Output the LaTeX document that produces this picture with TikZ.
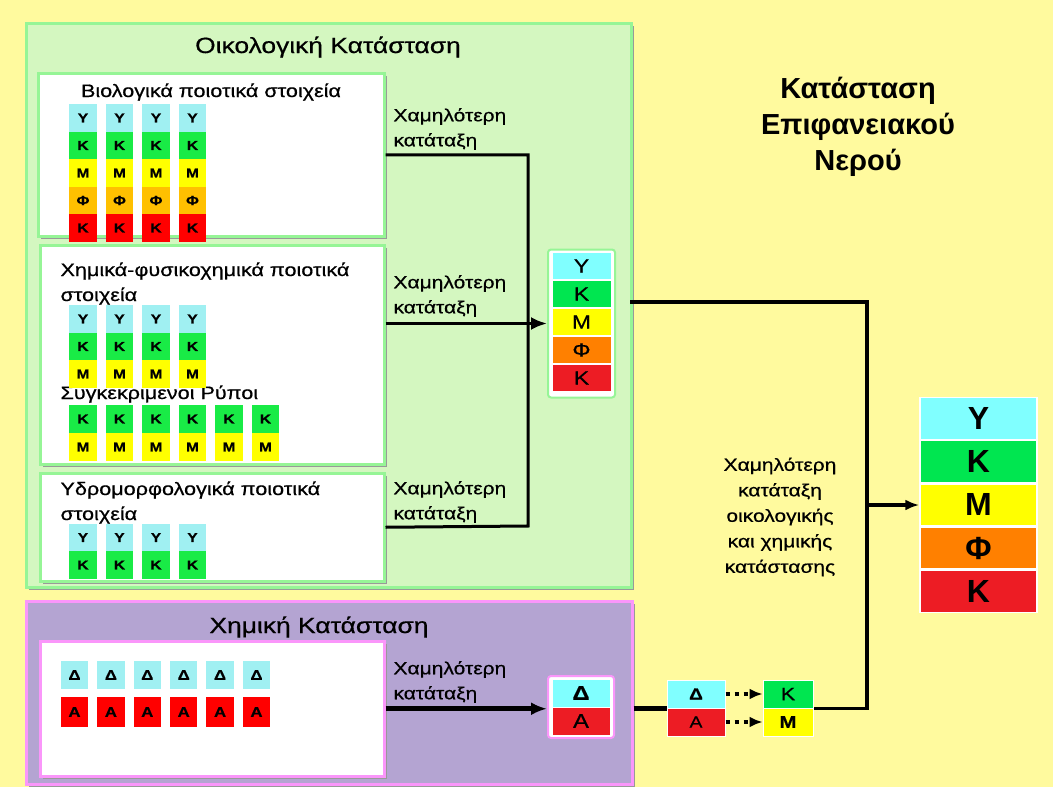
\documentclass[tikz,border=0pt]{standalone}
\usepackage{fontspec}
\setmainfont{Liberation Sans}[FakeStretch=1.2,FakeBold=0.6]
\newfontfamily\headfont{Liberation Sans}
\usetikzlibrary{arrows.meta,shadows}

\definecolor{bgyellow}{RGB}{255,250,158}
\definecolor{ecofill}{RGB}{212,247,192}
\definecolor{ecoline}{RGB}{150,245,150}
\definecolor{chemfill}{RGB}{180,164,210}
\definecolor{chemline}{RGB}{250,150,250}
% quality classes, small cells
\definecolor{qY}{RGB}{160,240,242}
\definecolor{qK}{RGB}{25,235,70}
\definecolor{qM}{RGB}{255,255,0}
\definecolor{qF}{RGB}{255,192,0}
\definecolor{qR}{RGB}{255,0,0}
% quality classes, summary cells
\definecolor{sY}{RGB}{128,255,255}
\definecolor{sK}{RGB}{0,230,80}
\definecolor{sF}{RGB}{255,128,0}
\definecolor{sR}{RGB}{237,28,36}

\tikzset{
  panel/.style={rectangle, draw=#1, line width=2.5pt, anchor=north west, inner sep=0pt,
    drop shadow={shadow xshift=2.5pt, shadow yshift=-2.5pt, fill=black!40, opacity=1}},
  itembox/.style={panel=#1, fill=white},
  cell/.style={rectangle, inner sep=0pt, minimum width=27.5pt, minimum height=27.5pt,
    font=\fontsize{13}{13}\selectfont\bfseries},
  sumcell/.style={rectangle, inner sep=0pt, draw=white, line width=1pt,
    minimum width=59pt, minimum height=27pt, font=\fontsize{19}{19}\selectfont},
  bigcell/.style={rectangle, inner sep=0pt, draw=white, line width=1.5pt,
    minimum width=117pt, minimum height=42pt, font=\headfont\fontsize{32}{32}\selectfont\bfseries},
  heading/.style={font=\fontsize{22}{26}\selectfont, anchor=base},
  boxhead/.style={font=\fontsize{18}{22}\selectfont, anchor=base west},
  note/.style={font=\fontsize{17.5}{25}\selectfont, align=left, anchor=west},
  wire/.style={line width=3pt},
  thickwire/.style={line width=5pt},
  dotwire/.style={line width=4pt, dash pattern=on 4pt off 5pt, -{Latex[length=13pt,width=11pt]}},
}

\begin{document}
\begin{tikzpicture}[x=1pt,y=-1pt]
\useasboundingbox (0,0) rectangle (1053,787);
\fill[bgyellow] (0,0) rectangle (1053,787);

% ecological status
\node[panel=ecoline, fill=ecofill, minimum width=605pt, minimum height=564pt] (ecopanel) at (25,22) {};
\node[heading] (ecohead) at (328,53) {Οικολογική Κατάσταση};
\node[itembox=ecoline, minimum width=346pt, minimum height=163pt] (bio) at (37,72) {};
\node[itembox=ecoline, minimum width=344pt, minimum height=219pt] (phys) at (39,244) {};
\node[itembox=ecoline, minimum width=344pt, minimum height=108pt] (hydro) at (39,472) {};

\node[boxhead, anchor=base] (biohead) at (211,97) {Βιολογικά ποιοτικά στοιχεία};
\node[boxhead] (physhead1) at (57,276) {Χημικά-φυσικοχημικά ποιοτικά};
\node[boxhead] (physhead2) at (57,301) {στοιχεία};
\node[boxhead] (pollhead) at (57,399) {Συγκεκριμενοι Ρύποι};
\node[boxhead] (hydrohead1) at (57,495) {Υδρομορφολογικά ποιοτικά};
\node[boxhead] (hydrohead2) at (57,520) {στοιχεία};

\foreach \c in {0,...,3}{
  \foreach \t/\col [count=\r from 0] in {Υ/qY,Κ/qK,Μ/qM,Φ/qF,Κ/qR}
    \node[cell, fill=\col] (bio-\c-\r) at (83+36.5*\c,118+27.5*\r) {\t};
  \foreach \t/\col [count=\r from 0] in {Υ/qY,Κ/qK,Μ/qM}
    \node[cell, fill=\col] (phys-\c-\r) at (83+36.5*\c,319+27.5*\r) {\t};
  \foreach \t/\col [count=\r from 0] in {Υ/qY,Κ/qK}
    \node[cell, fill=\col] (hydro-\c-\r) at (83+36.5*\c,537.5+27.5*\r) {\t};
}
\foreach \c in {0,...,5}{
  \node[cell, fill=qK] (poll-\c-0) at (83+36.5*\c,419) {Κ};
  \node[cell, fill=qM] (poll-\c-1) at (83+36.5*\c,447) {Μ};
}

% chemical status
\node[panel=chemline, fill=chemfill, minimum width=606pt, minimum height=183pt] (chempanel) at (25,600) {};
\node[heading] (chemhead) at (319,633) {Χημική Κατάσταση};
\node[itembox=chemline, minimum width=344pt, minimum height=135pt] (chembox) at (39,640) {};
\foreach \c in {0,...,5}{
  \node[cell, fill=qY, font=\fontsize{14}{14}\selectfont\bfseries] (chem-\c-0) at (74.5+36.4*\c,675) {Δ};
  \node[cell, fill=qR, minimum height=30pt, font=\fontsize{14}{14}\selectfont\bfseries] (chem-\c-1) at (74.5+36.4*\c,712) {Α};
}

% lower class labels
\node[note] (lbl1) at (390,129) {Χαμηλότερη\\κατάταξη};
\node[note] (lbl2) at (390,296) {Χαμηλότερη\\κατάταξη};
\node[note] (lbl3) at (390,502) {Χαμηλότερη\\κατάταξη};
\node[note] (lbl4) at (390,682) {Χαμηλότερη\\κατάταξη};

% summary of ecological status
\node[draw=ecoline, line width=2pt, fill=white, rounded corners=3pt,
  minimum width=67pt, minimum height=148pt, inner sep=0pt] (sumeco) at (581.5,323.5) {};
\foreach \t/\col [count=\r from 0] in {Υ/sY,Κ/sK,Μ/qM,Φ/sF,Κ/sR}
  \node[sumcell, fill=\col] (eco-\r) at (581.5,266+28*\r) {\t};

% summary of chemical status
\node[draw=chemline, line width=2pt, fill=white, rounded corners=3pt,
  minimum width=66pt, minimum height=62pt, inner sep=0pt] (sumchem) at (581,707) {};
\node[sumcell, fill=sY, minimum width=58pt, minimum height=28pt, font=\fontsize{20}{20}\selectfont\bfseries] (sumd) at (581,693) {Δ};
\node[sumcell, fill=sR, minimum width=58pt, minimum height=28pt, font=\fontsize{20}{20}\selectfont] (suma) at (581,721) {Α};

% chemical classes turned into ecological ones
\node[sumcell, fill=sY, minimum width=58pt, minimum height=28pt, font=\fontsize{16}{16}\selectfont\bfseries] (pd) at (696,694) {Δ};
\node[sumcell, fill=sR, minimum width=58pt, minimum height=28pt, font=\fontsize{16}{16}\selectfont] (pa) at (696,722) {Α};
\node[sumcell, fill=sK, minimum width=50pt, minimum height=28pt, font=\fontsize{18}{18}\selectfont] (vk) at (788,694) {Κ};
\node[sumcell, fill=qM, minimum width=50pt, minimum height=28pt, font=\fontsize{17}{17}\selectfont\bfseries] (vm) at (788,722) {Μ};

% surface water status
\node[font=\headfont\fontsize{29}{36}\selectfont\bfseries, align=center] (mainhead) at (858,127)
  {Κατάσταση\\Επιφανειακού\\Νερού};
\node[font=\fontsize{17.5}{25.5}\selectfont, align=center] (finalnote) at (780,517)
  {Χαμηλότερη\\κατάταξη\\οικολογικής\\και χημικής\\κατάστασης};
\foreach \t/\col [count=\r from 0] in {Υ/sY,Κ/sK,Μ/qM,Φ/sF,Κ/sR}
  \node[bigcell, fill=\col] (f-\r) at (978.5,418.5+43.2*\r) {\t};

% connectors
\coordinate (jn) at (528,526);
\coordinate (ecoout) at (630,302);
\coordinate (rail) at (867,505);
\draw[wire] (bio.east) -| (jn) -- (hydro.east);
\draw[wire, -{Latex[length=16pt,width=13pt]}] (phys.east |- sumeco.west) -- (sumeco.west);
\draw[thickwire, -{Latex[length=16pt,width=13pt]}] (chembox.east) -- (chembox.east -| sumchem.west);
\draw[thickwire] (chempanel.east |- pd.south west) -- (pd.south west);
\draw[dotwire] (pd) -- (vk);
\draw[dotwire] (pa) -- (vm);
\draw[wire, line width=3.5pt] (ecoout) -| (rail) |- (vk.south east);
\draw[wire, line width=3.5pt, -{Latex[length=14pt,width=11pt]}] (rail) -- (rail -| f-2.west);
\end{tikzpicture}
\end{document}
